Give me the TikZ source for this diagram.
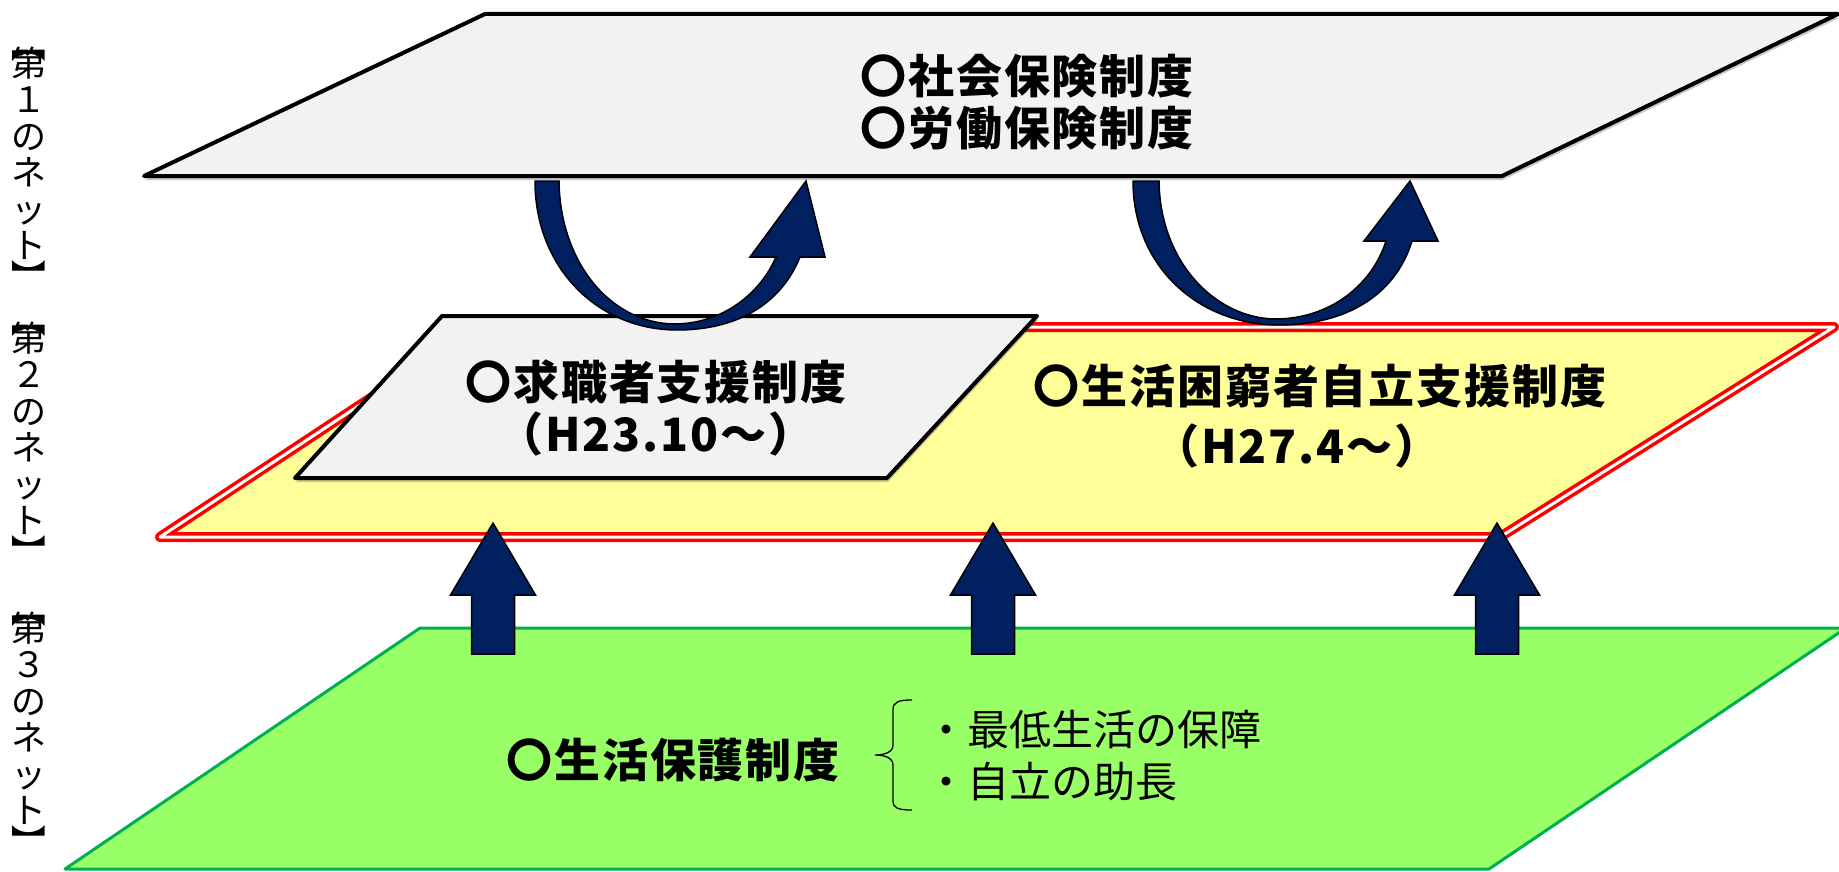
\documentclass[tikz,border=0pt]{standalone}
\usepackage{graphicx}
\usepackage{fontspec}
\newfontfamily\jp{Noto Sans CJK JP}
\newfontfamily\jpwide{Noto Sans CJK JP}[LetterSpace=4]
\usetikzlibrary{shadows}
\definecolor{navy}{HTML}{002060}
\definecolor{panelgray}{HTML}{F2F2F2}
\definecolor{paleyellow}{HTML}{FFFF99}
\definecolor{limegreen}{HTML}{99FF66}
\definecolor{edgegreen}{HTML}{00B050}
\definecolor{edgered}{HTML}{FF0000}
\begin{document}
\begin{tikzpicture}[x=1pt,y=-1pt,
  softshadow/.style={drop shadow={shadow xshift=1pt,shadow yshift=-4pt,opacity=0.3,fill=black!70}},
  grayplane/.style={fill=panelgray,draw=black,line width=4pt,line join=round},
  yellowplane/.style={fill=paleyellow,draw=edgered,line width=3.5pt,double=white,double distance=3pt,line join=round},
  greenplane/.style={fill=limegreen,draw=edgegreen,line width=3pt,line join=round},
  navyshape/.style={fill=navy,draw=black,line width=1.5pt,line join=miter},
  bigtext/.style={font=\jpwide\bfseries\fontsize{46}{52}\selectfont,align=center,inner sep=0pt},
  notetext/.style={font=\jp\fontsize{42}{52}\selectfont,align=left,inner sep=0pt},
  sidetext/.style={font=\jp\fontsize{35}{36.5}\selectfont,align=center,inner sep=0pt}
]
\path[use as bounding box,fill=white] (0,0) rectangle (1839,872);

% ---- first net (grey plane)
\coordinate (g1) at (485,14);
\coordinate (g2) at (1838,14);
\coordinate (g3) at (1502,176);
\coordinate (g4) at (144,176);
\draw[grayplane,softshadow] (g1) -- (g2) -- (g3) -- (g4) -- cycle;

% ---- second net (yellow plane)
\coordinate (y1) at (478,327);
\coordinate (y2) at (1834,327);
\coordinate (y3) at (1500,537);
\coordinate (y4) at (160,537);
\draw[yellowplane,softshadow] (y1) -- (y2) -- (y3) -- (y4) -- cycle;

% ---- job seeker support box
\coordinate (k1) at (442,316);
\coordinate (k2) at (1037,316);
\coordinate (k3) at (887,478);
\coordinate (k4) at (295,478);
\draw[grayplane,softshadow] (k1) -- (k2) -- (k3) -- (k4) -- cycle;

% ---- third net (green plane)
\coordinate (v1) at (420,628);
\coordinate (v2) at (1846,628);
\coordinate (v3) at (1489,869);
\coordinate (v4) at (65,869);
\draw[greenplane] (v1) -- (v2) -- (v3) -- (v4) -- cycle;

% ---- upward block arrows
\foreach \cx in {493,993,1497}{
  \draw[navyshape] (\cx,523) -- (\cx+42.5,595) -- (\cx+21.5,595) -- (\cx+21.5,654)
    -- (\cx-21.5,654) -- (\cx-21.5,595) -- (\cx-42.5,595) -- cycle;
}

% ---- curved arrows
\draw[navyshape] (535,181) -- (559,181)
  .. controls (560,262) and (610,323) .. (674,324)
  .. controls (722,324) and (760,294) .. (776,257)
  -- (750,257) -- (806,181) -- (825,257) -- (800,257)
  .. controls (780,306) and (735,330) .. (677,330)
  .. controls (598,330) and (535,268) .. (535,181) -- cycle;
\draw[navyshape] (1133,181) -- (1159,181)
  .. controls (1160,262) and (1215,318) .. (1275,319)
  .. controls (1330,319) and (1372,285) .. (1386,241)
  -- (1364,241) -- (1410,181) -- (1438,241) -- (1412,241)
  .. controls (1395,296) and (1345,325) .. (1279,325)
  .. controls (1198,325) and (1133,266) .. (1133,181) -- cycle;

% ---- brace
\coordinate (br1) at (912,700);
\coordinate (br2) at (875,755);
\coordinate (br3) at (912,810);
\draw[line width=1.3pt] (br1) .. controls (898,700) and (893,702) .. (893,710) -- (893,745)
  .. controls (893,752) and (885,755) .. (br2)
  .. controls (885,755) and (893,758) .. (893,765) -- (893,801)
  .. controls (893,808) and (898,810) .. (br3);

% ---- texts
\node[bigtext] (t1) at (1027,102) {〇社会保険制度\\〇労働保険制度};
\node[bigtext] (t2) at (656,408) {〇求職者支援制度\\（H23.10～）};
\node[bigtext] (t3a) at (1320,386) {〇生活困窮者自立支援制度};
\node[bigtext] (t3b) at (1297,446) {（H27.4～）};
\node[bigtext] (t4) at (673,760) {〇生活保護制度};
\node[notetext,anchor=west] (t5) at (925,756) {・最低生活の保障\\・自立の助長};

% ---- side labels (vertical writing)
\node[sidetext] (s1) at (29,161) {\rotatebox[origin=c]{-90}{【}\\[-19pt]第\\１\\の\\ネ\\ッ\\ト\\[-5pt]\rotatebox[origin=c]{-90}{】}};
\node[sidetext] (s2) at (29,436) {\rotatebox[origin=c]{-90}{【}\\[-19pt]第\\２\\の\\ネ\\ッ\\ト\\[-5pt]\rotatebox[origin=c]{-90}{】}};
\node[sidetext] (s3) at (29,726) {\rotatebox[origin=c]{-90}{【}\\[-19pt]第\\３\\の\\ネ\\ッ\\ト\\[-5pt]\rotatebox[origin=c]{-90}{】}};
\end{tikzpicture}
\end{document}
